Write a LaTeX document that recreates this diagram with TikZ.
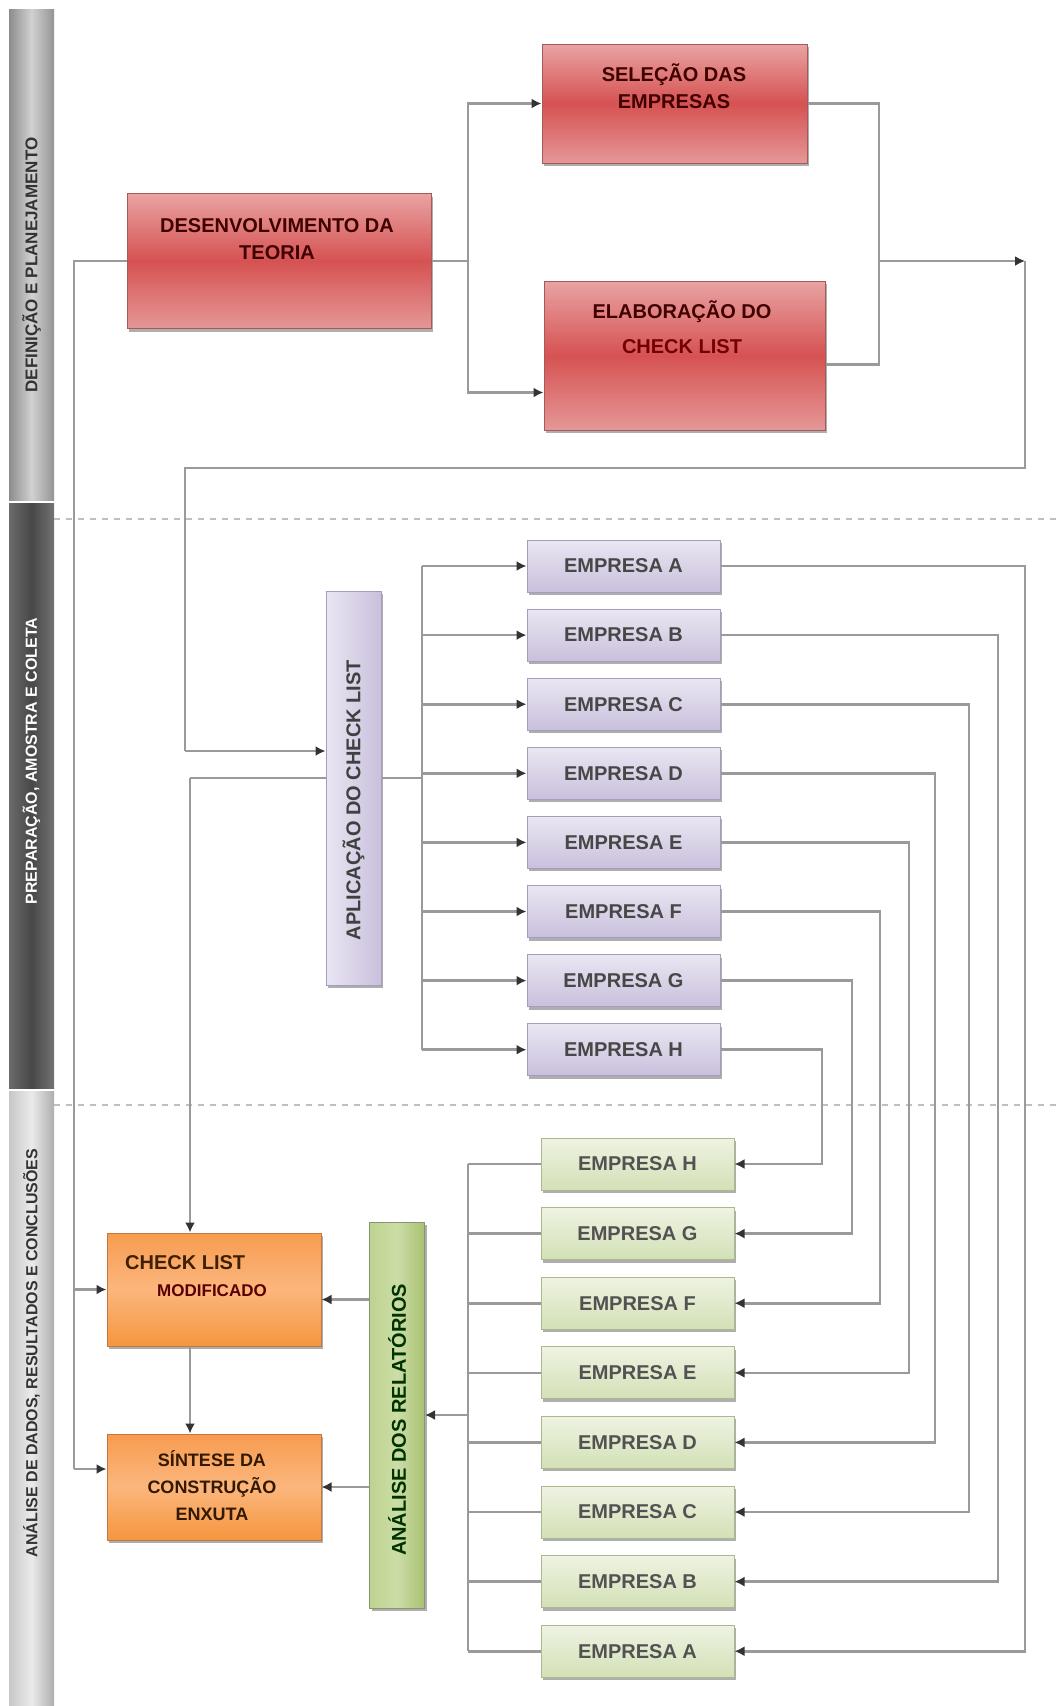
\documentclass[tikz,border=0pt]{standalone}
\usepackage{fontspec}
\setmainfont{Liberation Sans}
\usetikzlibrary{arrows.meta,shadows,calc}
\definecolor{lnc}{HTML}{9A9A9A}
\definecolor{tipc}{HTML}{333333}
\definecolor{redtop}{HTML}{E9A3A3}
\definecolor{redmid}{HTML}{D65252}
\definecolor{redbot}{HTML}{E59797}
\definecolor{redln}{HTML}{A55A5A}
\definecolor{purtop}{HTML}{EAE6F2}
\definecolor{purbot}{HTML}{C9C0DC}
\definecolor{purln}{HTML}{A69DBE}
\definecolor{grntop}{HTML}{EEF3E2}
\definecolor{grnbot}{HTML}{D3E0B6}
\definecolor{grnln}{HTML}{AABA8C}
\definecolor{gbarl}{HTML}{BDD38F}
\definecolor{gbarm}{HTML}{CCDDA6}
\definecolor{gbarr}{HTML}{A8C272}
\definecolor{orgtop}{HTML}{F79C50}
\definecolor{orgmid}{HTML}{FBB67D}
\definecolor{orgbot}{HTML}{F6963F}
\definecolor{orgln}{HTML}{C0783F}
\tikzset{
  shad/.style={drop shadow={shadow xshift=2pt,shadow yshift=-3pt,opacity=.45,fill=black!70}},
  redbox/.style={rectangle,draw=redln,line width=1pt,top color=redtop,bottom color=redbot,middle color=redmid,shad,inner sep=0pt},
  purbox/.style={rectangle,draw=purln,line width=1pt,top color=purtop,bottom color=purbot,shad,inner sep=0pt,minimum width=193pt,minimum height=52pt,font=\fontsize{20}{24}\selectfont\bfseries,text=black!72},
  grnbox/.style={rectangle,draw=grnln,line width=1pt,top color=grntop,bottom color=grnbot,shad,inner sep=0pt,minimum width=193pt,minimum height=52pt,font=\fontsize{20}{24}\selectfont\bfseries,text=black!68},
  orgbox/.style={rectangle,draw=orgln,line width=1pt,top color=orgtop,bottom color=orgbot,middle color=orgmid,shad,inner sep=0pt},
  lbl/.style={font=\fontsize{20}{27}\selectfont\bfseries,align=center,inner sep=0pt},
  bandtxt/.style={font=\fontsize{16}{18}\selectfont\bfseries,rotate=90,inner sep=0pt},
  conn/.style={draw=lnc,line width=2.6pt},
  arr/.style={conn,-{Latex[length=10pt,width=10pt,color=tipc]}},
  sep/.style={draw=black!25,line width=2pt,dash pattern=on 6pt off 6pt}
}
\begin{document}
\begin{tikzpicture}[x=1pt,y=-1pt]
\useasboundingbox (0,0) rectangle (1058,1706);
\fill[white] (0,0) rectangle (1058,1706);

% left bands
\shade[left color=black!45,right color=black!42,middle color=black!18] (9,9) rectangle (54,500);
\shade[left color=black!58,right color=black!55,middle color=black!72] (9,503) rectangle (54,1088);
\shade[left color=black!22,right color=black!32,middle color=black!8] (9,1091) rectangle (54,1706);
\node[bandtxt,text=black!80,font=\fontsize{17}{18}\selectfont\bfseries] (b1) at (31.5,265) {DEFINIÇÃO E PLANEJAMENTO};
\node[bandtxt,text=white] (b2) at (31.5,761) {PREPARAÇÃO, AMOSTRA E COLETA};
\node[bandtxt,text=black!80] (b3) at (31.5,1353) {ANÁLISE DE DADOS, RESULTADOS E CONCLUSÕES};

% separators
\draw[sep] (54,519) -- (1058,519);
\draw[sep] (54,1105) -- (1058,1105);

% red boxes
\node[redbox,minimum width=304pt,minimum height=135pt] (teo) at (279,261) {};
\node[lbl,text=red!25!black] (teot) at (277,239) {DESENVOLVIMENTO DA\\TEORIA};
\node[redbox,minimum width=265pt,minimum height=119pt] (sel) at (674.5,103.5) {};
\node[lbl,text=red!25!black] (selt) at (674,86) {SELEÇÃO DAS\\EMPRESAS};
\node[redbox,minimum width=281pt,minimum height=149pt] (ela) at (684.5,355.5) {};
\node[lbl,text=red!25!black,font=\fontsize{20}{35}\selectfont\bfseries] (elat) at (682,327) {ELABORAÇÃO DO\\\textcolor{red!45!black}{CHECK LIST}};

% purple bar
\node[rectangle,draw=purln,line width=1pt,left color=purtop,right color=purbot,shad,minimum width=55pt,minimum height=394pt,inner sep=0pt] (apl) at (353.5,788) {};
\node[lbl,rotate=90,text=black!75] (aplt) at (353.5,800) {APLICAÇÃO DO CHECK LIST};

% purple empresas
\foreach \l [count=\i from 0] in {A,B,C,D,E,F,G,H}{
  \node[purbox] (p\l) at (623.5,566+69.1*\i) {EMPRESA \l};
}
% green empresas
\foreach \l [count=\i from 0] in {H,G,F,E,D,C,B,A}{
  \node[grnbox] (g\l) at (637.5,1164+69.6*\i) {EMPRESA \l};
}

% green bar
\node[rectangle,draw=grnln!80!black,line width=1pt,left color=gbarl,right color=gbarr,middle color=gbarm,shad,minimum width=55pt,minimum height=386pt,inner sep=0pt] (gbar) at (397,1415) {};
\node[lbl,rotate=90,text=green!20!black] (gbart) at (397,1420) {ANÁLISE DOS RELATÓRIOS};

% orange boxes
\node[orgbox,minimum width=214pt,minimum height=113pt] (ck) at (214,1289.5) {};
\node[lbl,anchor=west,text=orange!25!black] (ckt1) at (125,1263) {CHECK LIST};
\node[lbl,text=red!35!black,font=\fontsize{17}{20}\selectfont\bfseries] (ckt2) at (212,1291) {MODIFICADO};
\node[orgbox,minimum width=214pt,minimum height=106pt] (sin) at (214,1487) {};
\node[lbl,text=orange!20!black,font=\fontsize{18}{27}\selectfont\bfseries] (sint) at (212,1486) {SÍNTESE DA\\CONSTRUÇÃO\\ENXUTA};

% ---- connectors ----
\coordinate (j1) at (468,261);
\draw[conn] (teo.east) -- (j1);
\draw[arr] (j1) |- (sel.west);
\coordinate (e1) at ($(ela.west)+(0,37)$);
\draw[arr] (j1) |- (e1);
\coordinate (j2) at (879,261);
\coordinate (e2) at ($(ela.east)+(0,9)$);
\draw[conn] (sel.east) -| (j2);
\draw[conn] (e2) -| (j2);
\coordinate (c1) at (1025,261);
\coordinate (c2) at (1025,468);
\coordinate (c3) at (185,468);
\coordinate (a1) at ($(apl.west)+(0,-37)$);
\draw[conn] (c1) -- (c2) -- (c3) -- (c3 |- a1);
\draw[arr] (c3 |- a1) -- (a1);
\draw[arr] (j2) -- (c1);

% aplicacao -> purple empresas
\coordinate (ae) at ($(apl.east)+(0,-10)$);
\coordinate (aw) at ($(apl.west)+(0,-10)$);
\coordinate (pb) at (422,778);
\draw[conn] (ae) -- (pb);
\draw[conn] (pA.west -| pb) -- (pH.west -| pb);
\foreach \l in {A,B,C,D,E,F,G,H}{
  \draw[arr] (p\l.west -| pb) -- (p\l.west);
}
% aplicacao -> check list
\coordinate (k1) at (190,778);
\draw[conn] (aw) -- (k1);
\draw[arr] (k1) -- (k1 |- ck.north);

% purple -> green
\foreach \l/\x in {A/1025,B/998,C/969,D/935,E/909,F/880,G/852,H/822}{
  \coordinate (r\l) at (\x,0);
  \draw[arr] (p\l.east) -- (p\l.east -| r\l) -- (g\l.east -| r\l) -- (g\l.east);
}

% green -> green bar
\coordinate (gb) at (468,1415);
\foreach \l in {A,B,C,D,E,F,G,H}{
  \draw[conn] (g\l.west) -- (g\l.west -| gb);
}
\draw[conn] (gH.west -| gb) -- (gA.west -| gb);
\draw[arr] (gb) -- (gbar.east);

% green bar -> orange
\coordinate (o1) at ($(ck.east)+(0,10)$);
\draw[arr] (o1 -| gbar.west) -- (o1);
\draw[arr] (sin.east -| gbar.west) -- (sin.east);

% check list -> sintese
\draw[arr] (k1 |- ck.south) -- (k1 |- sin.north);

% left bus
\coordinate (lb) at (74,261);
\coordinate (s1) at ($(sin.west)+(0,-18)$);
\draw[conn] (teo.west) -- (lb) -- (lb |- s1);
\draw[arr] (ck.west -| lb) -- (ck.west);
\draw[arr] (s1 -| lb) -- (s1);
\end{tikzpicture}
\end{document}
